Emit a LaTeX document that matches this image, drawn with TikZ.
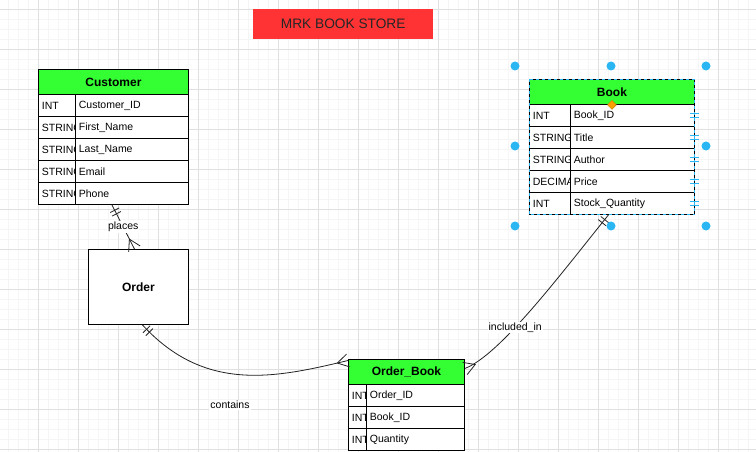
\documentclass[tikz,border=0pt]{standalone}
\usepackage{fontspec}
\setmainfont{Liberation Sans}
\usetikzlibrary{shapes.geometric,decorations.markings}
\definecolor{HdrGreen} {RGB}{51,255,51}
\definecolor{TitleRed} {RGB}{255,51,51}
\definecolor{GridMajor}{RGB}{224,224,224}
\definecolor{GridMinor}{RGB}{245,245,245}
\definecolor{SelBlue}  {RGB}{41,182,242}
\definecolor{SelOrange}{RGB}{255,160,0}
\definecolor{LinkGray} {RGB}{35,35,35}
\newcommand{\cellfont}{\fontsize{10.5}{12}\selectfont}
\newcommand{\hdrfont}{\fontsize{12}{14}\selectfont\bfseries}
\tikzset{
  grid_mn/.style={draw=GridMinor,line width=0.8pt},
  grid_mj/.style={draw=GridMajor,line width=0.8pt},
  ttl_box/.style={rectangle,fill=TitleRed,minimum width=180pt,minimum height=30pt,inner sep=0pt,anchor=north west,font=\fontsize{13.7}{16}\selectfont,text=black!85},
  tb_hdr/.style={rectangle,draw=black,fill=HdrGreen,line width=0.9pt,minimum height=25pt,inner sep=0pt,anchor=north west,font=\hdrfont},
  tb_cell/.style={rectangle,draw=black,fill=white,line width=0.9pt,minimum height=22pt,inner sep=0pt,anchor=north west,
    path picture={\node[anchor=west,inner sep=0pt,minimum width=0pt,minimum height=0pt,draw=none,fill=none,font=\cellfont]
      at ([xshift=3pt]path picture bounding box.west) {#1};}},
  ent/.style={rectangle,draw=black,fill=white,line width=0.9pt,minimum width=100pt,minimum height=75pt,inner sep=0pt,anchor=north west,font=\hdrfont},
  conn/.style={draw=LinkGray,line width=0.8pt},
  mand_one/.style={postaction={decorate,decoration={markings,
    mark=at position 6pt with {\draw[LinkGray,line width=0.8pt] (0pt,-5pt)--(0pt,5pt);},
    mark=at position 10pt with {\draw[LinkGray,line width=0.8pt] (0pt,-5pt)--(0pt,5pt);}}}},
  crow_many/.style={postaction={decorate,decoration={markings,
    mark=at position 1 with {\draw[LinkGray,line width=0.8pt] (0pt,6.5pt)--(-11pt,0pt)--(0pt,-6.5pt);}}}},
  lbl/.style={fill=white,inner sep=1pt,font=\cellfont},
}
% one row of a table: name, left, divider, right, top, type, attribute
\newcommand{\attrrow}[7]{%
  \node[tb_cell={#6},minimum width=#3-#2] (#1_ty) at (#2,#5) {};
  \node[tb_cell={#7},minimum width=#4-#3] (#1_at) at (#3,#5) {};}
\begin{document}
\begin{tikzpicture}[x=1pt,y=-1pt]
\useasboundingbox (0,0) rectangle (756,452);
\fill[white] (0,0) rectangle (756,452);
% grid
\foreach \gx in {8,18,...,748}{\draw[grid_mn](\gx,0)--(\gx,452);}
\foreach \gy in {9,19,...,449}{\draw[grid_mn](0,\gy)--(756,\gy);}
\foreach \gx in {38,78,...,718}{\draw[grid_mj](\gx,0)--(\gx,452);}
\foreach \gy in {9,49,...,449}{\draw[grid_mj](0,\gy)--(756,\gy);}
% title
\node[ttl_box] (ttl) at (253,9) {MRK BOOK STORE};
% Customer
\def\cL{38}\def\cM{75}\def\cR{188}
\node[tb_hdr,minimum width=\cR-\cL] (c_hdr) at (\cL,69) {Customer};
\attrrow{c_id}{\cL}{\cM}{\cR}{94}{INT}{Customer\_ID}
\attrrow{c_fn}{\cL}{\cM}{\cR}{116}{STRING}{First\_Name}
\attrrow{c_ln}{\cL}{\cM}{\cR}{138}{STRING}{Last\_Name}
\attrrow{c_em}{\cL}{\cM}{\cR}{160}{STRING}{Email}
\attrrow{c_ph}{\cL}{\cM}{\cR}{182}{STRING}{Phone}
% Book
\def\bL{529}\def\bM{570}\def\bR{694}
\node[tb_hdr,minimum width=\bR-\bL] (b_hdr) at (\bL,79) {Book};
\attrrow{b_id}{\bL}{\bM}{\bR}{104}{INT}{Book\_ID}
\attrrow{b_ti}{\bL}{\bM}{\bR}{126}{STRING}{Title}
\attrrow{b_au}{\bL}{\bM}{\bR}{148}{STRING}{Author}
\attrrow{b_pr}{\bL}{\bM}{\bR}{170}{DECIMAL}{Price}
\attrrow{b_st}{\bL}{\bM}{\bR}{192}{INT}{Stock\_Quantity}
% Order_Book
\def\oL{348}\def\oM{366}\def\oR{464}
\node[tb_hdr,minimum width=\oR-\oL] (ob_hdr) at (\oL,359) {Order\_Book};
\attrrow{ob_oid}{\oL}{\oM}{\oR}{384}{INT}{Order\_ID}
\attrrow{ob_bid}{\oL}{\oM}{\oR}{406}{INT}{Book\_ID}
\attrrow{ob_qty}{\oL}{\oM}{\oR}{428}{INT}{Quantity}
% Order
\node[ent] (ord) at (88,249) {Order};
% relations
\draw[conn,mand_one,crow_many] ([xshift=-20pt]c_ph_at.south) -- node[lbl]{places} ([xshift=-4pt]ord.north);
\draw[conn,mand_one,crow_many] ([xshift=4pt]ord.south) .. controls (205,393) and (275,378) .. ([yshift=-1.5pt]ob_hdr.north west);
\draw[conn,mand_one,crow_many] ([xshift=-24pt]b_st_at.south) .. controls (560,275) and (500,355) .. ([yshift=3.5pt]ob_hdr.east)
  node[lbl,pos=0.61]{included\_in};
\node[lbl] (lbl_ct) at (230,405) {contains};
% selection of Book
\draw[SelBlue,line width=0.9pt,dash pattern=on 3pt off 3pt] (b_hdr.north west) rectangle (b_st_at.south east);
\foreach \r in {b_id,b_ti,b_au,b_pr,b_st}{
  \draw[SelBlue,line width=1pt] ([xshift=-5pt,yshift=2pt]\r_at.east) -- ++(9,0);
  \draw[SelBlue,line width=1pt] ([xshift=-5pt,yshift=-2pt]\r_at.east) -- ++(9,0);}
\foreach \hx/\hy in {515/66,611/66,706/66,515/146,706/146,515/226,611/226,706/226}{\fill[SelBlue] (\hx,\hy) circle (4.5pt);}
\node[diamond,fill=SelOrange,draw=SelOrange!80!black,line width=0.4pt,minimum size=9pt,inner sep=0pt] (b_rot) at (b_hdr.south) {};
\end{tikzpicture}
\end{document}
